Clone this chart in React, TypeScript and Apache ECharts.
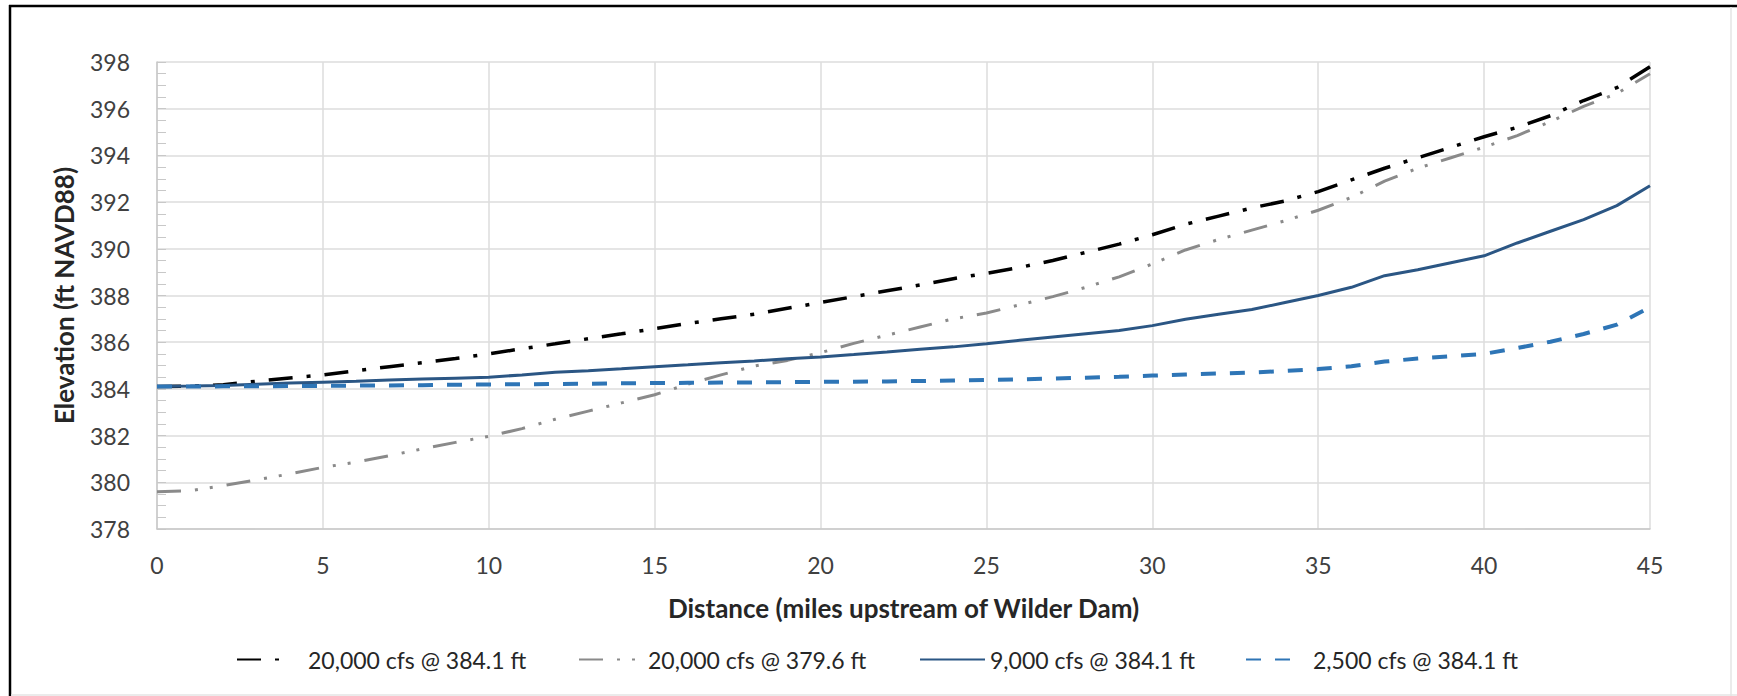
import React, { useEffect, useRef } from "react";
import * as echarts from "echarts";

// Distance upstream of Wilder Dam (miles)
const distance = [
  0, 1, 2, 3, 4, 5, 6, 7, 8, 9, 10, 11, 12, 13, 14, 15, 16, 17, 18, 19, 20, 21, 22,
  23, 24, 25, 26, 27, 28, 29, 30, 31, 32, 33, 34, 35, 36, 37, 38, 39, 40, 41, 42, 43,
  44, 45,
];

// Water surface elevations (ft NAVD88)
const flow20kHigh = [
  384.1, 384.12, 384.18, 384.33, 384.47, 384.6, 384.78, 384.95, 385.12, 385.3, 385.5,
  385.72, 385.93, 386.15, 386.36, 386.58, 386.8, 387.0, 387.2, 387.45, 387.7, 387.95,
  388.2, 388.45, 388.72, 388.95, 389.2, 389.5, 389.85, 390.2, 390.6, 391.05, 391.4,
  391.75, 392.05, 392.45, 392.95, 393.45, 393.9, 394.35, 394.8, 395.2, 395.7, 396.35,
  396.9, 397.8,
];
const flow20kLow = [
  379.6, 379.64, 379.86, 380.1, 380.36, 380.64, 380.86, 381.14, 381.43, 381.71, 381.97,
  382.3, 382.7, 383.05, 383.4, 383.75, 384.2, 384.6, 384.98, 385.22, 385.55, 385.95,
  386.3, 386.65, 387.0, 387.25, 387.6, 387.95, 388.35, 388.8, 389.35, 389.95, 390.4,
  390.8, 391.2, 391.65, 392.2, 392.9, 393.45, 393.9, 394.35, 394.85, 395.45, 396.1,
  396.65, 397.5,
];
const flow9k = [
  384.1, 384.12, 384.15, 384.2, 384.25, 384.29, 384.33, 384.38, 384.42, 384.46, 384.5,
  384.6, 384.71, 384.78, 384.86, 384.95, 385.03, 385.12, 385.2, 385.29, 385.37, 385.47,
  385.58, 385.7, 385.8, 385.93, 386.08, 386.22, 386.36, 386.5, 386.71, 386.98, 387.2,
  387.4, 387.7, 388.0, 388.35, 388.85, 389.1, 389.4, 389.7, 390.25, 390.75, 391.25,
  391.85, 392.7,
];
const flow2500 = [
  384.1, 384.1, 384.11, 384.11, 384.12, 384.13, 384.14, 384.15, 384.16, 384.18, 384.19,
  384.2, 384.21, 384.22, 384.24, 384.25, 384.26, 384.27, 384.28, 384.29, 384.3, 384.31,
  384.32, 384.34, 384.36, 384.38, 384.41, 384.44, 384.48, 384.52, 384.57, 384.62, 384.66,
  384.7, 384.77, 384.85, 384.97, 385.17, 385.3, 385.4, 385.5, 385.75, 386.02, 386.35,
  386.75, 387.5,
];

const seriesNames = [
  "20,000 cfs @ 384.1 ft",
  "20,000 cfs @ 379.6 ft",
  "9,000 cfs @ 384.1 ft",
  "2,500 cfs @ 384.1 ft",
];
const seriesValues = [flow20kHigh, flow20kLow, flow9k, flow2500];

const xTitle = "Distance (miles upstream of Wilder Dam)";
const yTitle = "Elevation (ft NAVD88)";

const FONT = "Lato, 'Open Sans', sans-serif";

export default function App() {
  const ref = useRef<HTMLDivElement>(null);

  useEffect(() => {
    document.body.style.margin = "0";
    if (!ref.current) return;
    const chart = echarts.init(ref.current, undefined, { renderer: "svg" });

    const styles = [
      { color: "#000000", width: 3.5, type: [24, 14, 4, 14] },
      { color: "#8a8a8a", width: 3, type: [24, 14, 3, 12, 3, 14] },
      { color: "#2b5684", width: 3, type: "solid" },
      { color: "#2e75b6", width: 4, type: [15, 14] },
    ];

    const legendLayout = [
      { left: 236, itemWidth: 46, pad: 20 },
      { left: 578, itemWidth: 58, pad: 6 },
      { left: 919, itemWidth: 65, pad: 0 },
      { left: 1245, itemWidth: 47, pad: 15 },
    ];

    const option: any = {
      animation: false,
      backgroundColor: "#ffffff",
      grid: { left: 157, right: 87, top: 62, bottom: 167, containLabel: false },
      legend: seriesNames.map((n, i) => ({
        data: [n],
        left: legendLayout[i].left,
        top: 648,
        padding: 0,
        itemWidth: legendLayout[i].itemWidth,
        itemHeight: 14,
        itemStyle: { opacity: 0, borderWidth: 0 },
        textStyle: {
          fontFamily: FONT,
          fontSize: 23,
          color: "#262626",
          padding: [0, 0, 0, legendLayout[i].pad],
        },
      })),
      xAxis: {
        type: "value",
        min: 0,
        max: 45,
        interval: 5,
        name: xTitle,
        nameLocation: "middle",
        nameGap: 66,
        nameTextStyle: { fontFamily: FONT, fontSize: 26, fontWeight: "bold", color: "#262626" },
        axisLine: { show: true, lineStyle: { color: "#c8c8c8", width: 1.5 } },
        axisTick: { show: false },
        axisLabel: { fontFamily: FONT, fontSize: 23, color: "#404040", margin: 24 },
        splitLine: { show: true, lineStyle: { color: "#dcdcdc", width: 1.5 } },
      },
      yAxis: {
        type: "value",
        min: 378,
        max: 398,
        interval: 2,
        name: yTitle,
        nameLocation: "middle",
        nameGap: 80,
        nameTextStyle: { fontFamily: FONT, fontSize: 26, fontWeight: "bold", color: "#262626" },
        axisLine: { show: true, lineStyle: { color: "#c8c8c8", width: 1.5 } },
        axisTick: { show: true, inside: true, length: 9, lineStyle: { color: "#c8c8c8" } },
        minorTick: { show: true, splitNumber: 4, length: 9, lineStyle: { color: "#c8c8c8" } },
        axisLabel: { fontFamily: FONT, fontSize: 23, color: "#404040", margin: 27 },
        splitLine: { show: true, lineStyle: { color: "#dcdcdc", width: 1.5 } },
      },
      series: seriesNames.map((n, i) => ({
        name: n,
        type: "line",
        symbol: "none",
        showSymbol: false,
        smooth: false,
        lineStyle: { ...styles[i], cap: "butt" },
        itemStyle: { color: styles[i].color },
        data: distance.map((d, k) => [d, seriesValues[i][k]]),
      })),
      graphic: [
        { type: "line", shape: { x1: 10, y1: 5, x2: 10, y2: 696 }, style: { stroke: "#000", lineWidth: 2.5 }, z: 100 },
        { type: "line", shape: { x1: 9, y1: 6, x2: 1737, y2: 6 }, style: { stroke: "#000", lineWidth: 2.5 }, z: 100 },
        { type: "line", shape: { x1: 1731, y1: 7, x2: 1731, y2: 696 }, style: { stroke: "#e4e4e4", lineWidth: 1.5 }, z: 100 },
        { type: "line", shape: { x1: 11, y1: 695, x2: 1737, y2: 695 }, style: { stroke: "#e4e4e4", lineWidth: 1.5 }, z: 100 },
      ],
    };

    chart.setOption(option);
    return () => chart.dispose();
  }, []);

  return <div ref={ref} style={{ width: 1737, height: 696 }} />;
}
